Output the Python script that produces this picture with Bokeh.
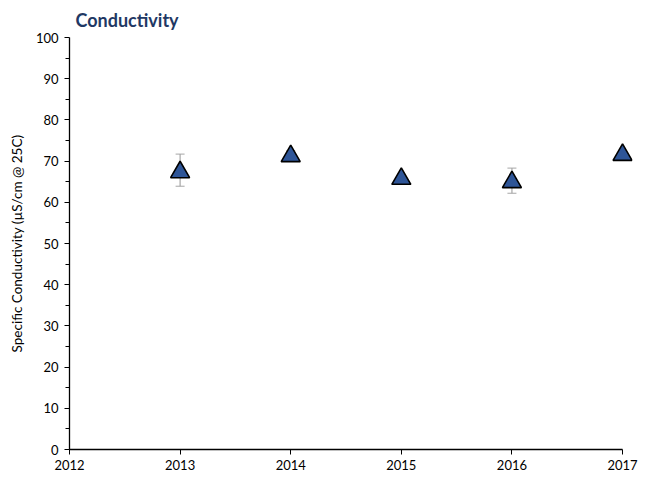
from bokeh.plotting import figure
from bokeh.models import ColumnDataSource, Whisker, FixedTicker, Range1d
from bokeh.embed import file_html
from bokeh.resources import INLINE

years = [2013, 2014, 2015, 2016, 2017]
conductivity = [67.3, 71.2, 65.7, 64.9, 71.5]
err_upper = [71.7, 72.5, 66.4, 68.3, 72.3]
err_lower = [63.9, 70.3, 65.2, 62.2, 71.1]
x_ticks = [2012, 2013, 2014, 2015, 2016, 2017]
y_ticks = [0, 10, 20, 30, 40, 50, 60, 70, 80, 90, 100]

FONT = "Lato"

src = ColumnDataSource(data=dict(x=years, y=conductivity, upper=err_upper, lower=err_lower))

p = figure(width=647, height=479, output_backend="svg", toolbar_location=None,
           x_range=Range1d(2012, 2017.09), y_range=Range1d(0, 100),
           min_border_left=69, min_border_right=15, min_border_top=36, min_border_bottom=30)
p.outline_line_color = None
p.xgrid.grid_line_color = None
p.ygrid.grid_line_color = None
p.background_fill_color = "white"

p.title.text = "Conductivity"
p.title.text_font = FONT
p.title.text_font_style = "bold"
p.title.text_font_size = "18px"
p.title.text_color = "#1F3864"
p.title.offset = 6
p.title.standoff = 13

whisk = Whisker(source=src, base="x", upper="upper", lower="lower",
                line_color="#A6A6A6", line_width=1.2)
whisk.upper_head.size = 9
whisk.lower_head.size = 9
whisk.upper_head.line_color = "#A6A6A6"
whisk.lower_head.line_color = "#A6A6A6"
p.add_layout(whisk)

p.scatter("x", "y", source=src, marker="triangle", size=19,
          fill_color="#2E5597", line_color="black", line_width=1.6)

for ax in (p.xaxis[0], p.yaxis[0]):
    ax.axis_line_color = "black"
    ax.axis_line_width = 1.3
    ax.major_tick_line_color = "black"
    ax.major_tick_in = 0
    ax.major_label_text_font = FONT
    ax.major_label_text_font_size = "13px"
    ax.major_label_text_color = "black"

p.xaxis.ticker = FixedTicker(ticks=x_ticks)
p.xaxis.bounds = (2012, 2017)
p.xaxis.major_tick_out = 5
p.xaxis.minor_tick_line_color = None
p.xaxis.major_label_standoff = 5

p.yaxis.ticker = FixedTicker(ticks=y_ticks, minor_ticks=[v + 5 for v in y_ticks[:-1]])
p.yaxis.major_tick_out = 5
p.yaxis.minor_tick_out = 4
p.yaxis.minor_tick_in = 0
p.yaxis.minor_tick_line_color = "black"
p.yaxis.major_label_standoff = 6
p.yaxis.axis_label = "Specific Conductivity (\u00b5S/cm @ 25C)"
p.yaxis.axis_label_text_font = FONT
p.yaxis.axis_label_text_font_style = "normal"
p.yaxis.axis_label_text_font_size = "13.5px"
p.yaxis.axis_label_text_color = "black"
p.yaxis.axis_label_standoff = 8

open("out.html", "w").write(file_html(p, INLINE))
